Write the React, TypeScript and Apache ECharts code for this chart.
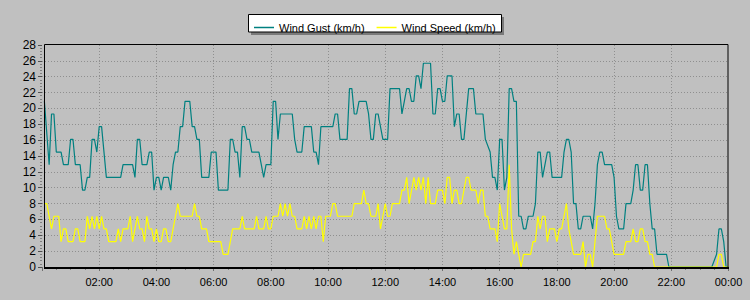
import React, { useEffect, useRef } from "react";
import * as echarts from "echarts";

// time of day in minutes, values in km/h
const gustTimes = [5, 15, 20, 25, 30, 40, 45, 55, 60, 65, 70, 80, 85, 90, 95, 100, 105, 110, 115, 120, 125, 135, 165, 170, 190, 195, 200, 205, 210, 220, 225, 230, 235, 240, 245, 250, 255, 265, 270, 275, 280, 285, 290, 295, 300, 310, 315, 320, 325, 330, 335, 350, 355, 365, 370, 390, 395, 400, 405, 410, 415, 420, 425, 430, 435, 440, 455, 460, 465, 470, 480, 485, 490, 495, 500, 525, 530, 535, 545, 550, 565, 570, 575, 580, 585, 610, 615, 620, 625, 640, 645, 650, 655, 660, 665, 680, 685, 690, 695, 700, 705, 710, 715, 725, 730, 750, 755, 760, 765, 770, 775, 780, 785, 790, 795, 800, 815, 820, 825, 830, 835, 840, 845, 850, 860, 865, 870, 875, 880, 885, 895, 905, 910, 925, 930, 940, 945, 950, 955, 960, 965, 970, 975, 980, 985, 990, 995, 1000, 1005, 1010, 1015, 1020, 1030, 1035, 1040, 1045, 1050, 1055, 1060, 1065, 1070, 1090, 1095, 1100, 1105, 1110, 1115, 1120, 1125, 1130, 1135, 1150, 1155, 1160, 1165, 1170, 1175, 1180, 1195, 1200, 1205, 1210, 1220, 1225, 1235, 1240, 1245, 1250, 1255, 1260, 1265, 1270, 1275, 1280, 1285, 1290, 1310, 1315, 1405, 1415, 1420, 1425, 1430, 1435, 1440];
const gustValues = [20.9, 12.9, 19.3, 19.3, 14.5, 14.5, 12.9, 12.9, 16.1, 16.1, 12.9, 12.9, 9.7, 9.7, 11.3, 11.3, 16.1, 16.1, 14.5, 17.7, 17.7, 11.3, 11.3, 12.9, 12.9, 11.3, 16.1, 16.1, 12.9, 12.9, 14.5, 14.5, 9.7, 11.3, 11.3, 9.7, 11.3, 11.3, 9.7, 12.9, 14.5, 14.5, 17.7, 17.7, 20.9, 20.9, 17.7, 17.7, 16.1, 16.1, 11.3, 11.3, 14.5, 14.5, 9.7, 9.7, 16.1, 16.1, 14.5, 14.5, 11.3, 17.7, 17.7, 16.1, 16.1, 14.5, 14.5, 12.9, 11.3, 12.9, 12.9, 20.9, 20.9, 16.1, 19.3, 19.3, 16.1, 14.5, 14.5, 17.7, 17.7, 14.5, 14.5, 12.9, 17.7, 17.7, 19.3, 19.3, 16.1, 16.1, 22.5, 22.5, 19.3, 19.3, 20.9, 20.9, 19.3, 16.1, 16.1, 19.3, 19.3, 17.7, 16.1, 16.1, 22.5, 22.5, 19.3, 20.9, 22.5, 22.5, 20.9, 20.9, 24.1, 24.1, 22.5, 25.7, 25.7, 19.3, 19.3, 22.5, 22.5, 20.9, 20.9, 24.1, 24.1, 17.7, 19.3, 19.3, 16.1, 16.1, 22.5, 22.5, 19.3, 19.3, 16.1, 14.5, 11.3, 11.3, 9.7, 16.1, 16.1, 9.7, 11.3, 22.5, 22.5, 20.9, 20.9, 6.4, 6.4, 4.8, 4.8, 6.4, 6.4, 8.0, 14.5, 14.5, 11.3, 12.9, 14.5, 14.5, 11.3, 11.3, 14.5, 16.1, 16.1, 14.5, 8.0, 8.0, 4.8, 4.8, 6.4, 6.4, 4.8, 8.0, 12.9, 14.5, 14.5, 12.9, 12.9, 11.3, 6.4, 4.8, 4.8, 8.0, 8.0, 9.7, 12.9, 12.9, 9.7, 9.7, 12.9, 12.9, 8.0, 4.8, 4.8, 1.6, 1.6, 0, 0, 1.6, 4.8, 4.8, 3.2, 0, 0];

const speedTimes = [5, 10, 20, 25, 35, 40, 45, 50, 55, 65, 70, 75, 80, 90, 95, 100, 105, 110, 115, 120, 125, 130, 135, 140, 155, 160, 165, 170, 180, 185, 190, 195, 200, 205, 210, 215, 220, 225, 230, 235, 240, 245, 250, 255, 260, 265, 270, 275, 280, 285, 290, 315, 320, 325, 330, 335, 345, 350, 375, 380, 390, 400, 415, 420, 425, 445, 450, 455, 465, 470, 475, 480, 485, 495, 500, 505, 510, 515, 520, 525, 530, 535, 545, 550, 555, 560, 565, 570, 575, 580, 585, 590, 595, 605, 610, 615, 620, 650, 655, 670, 675, 680, 685, 690, 700, 705, 710, 715, 720, 725, 730, 735, 750, 755, 760, 765, 770, 780, 785, 790, 795, 800, 805, 810, 815, 825, 830, 840, 845, 850, 855, 860, 865, 870, 875, 880, 885, 890, 895, 900, 910, 915, 920, 925, 930, 935, 940, 950, 955, 960, 965, 970, 975, 980, 985, 990, 995, 1000, 1005, 1010, 1025, 1030, 1035, 1040, 1045, 1050, 1055, 1060, 1065, 1075, 1080, 1085, 1090, 1095, 1100, 1105, 1110, 1115, 1130, 1135, 1140, 1145, 1150, 1155, 1160, 1165, 1180, 1185, 1190, 1195, 1200, 1220, 1225, 1235, 1240, 1245, 1250, 1255, 1260, 1265, 1270, 1275, 1280, 1285, 1415, 1420, 1425, 1430, 1440];
const speedValues = [8.0, 8.0, 4.8, 6.4, 6.4, 3.2, 4.8, 4.8, 3.2, 3.2, 4.8, 4.8, 3.2, 3.2, 6.4, 4.8, 6.4, 4.8, 6.4, 4.8, 6.4, 4.8, 4.8, 3.2, 3.2, 4.8, 3.2, 4.8, 4.8, 6.4, 3.2, 4.8, 6.4, 4.8, 4.8, 3.2, 6.4, 4.8, 4.8, 3.2, 4.8, 3.2, 3.2, 4.8, 4.8, 3.2, 3.2, 4.8, 6.4, 8.0, 6.4, 6.4, 8.0, 6.4, 6.4, 4.8, 4.8, 3.2, 3.2, 1.6, 1.6, 4.8, 4.8, 6.4, 4.8, 4.8, 6.4, 4.8, 4.8, 6.4, 4.8, 4.8, 6.4, 6.4, 8.0, 6.4, 8.0, 6.4, 8.0, 6.4, 6.4, 4.8, 4.8, 6.4, 4.8, 6.4, 4.8, 6.4, 4.8, 6.4, 6.4, 3.2, 6.4, 6.4, 8.0, 8.0, 6.4, 6.4, 8.0, 8.0, 9.7, 8.0, 8.0, 6.4, 6.4, 8.0, 4.8, 6.4, 8.0, 6.4, 6.4, 8.0, 8.0, 9.7, 9.7, 11.3, 8.0, 11.3, 9.7, 11.3, 9.7, 11.3, 8.0, 11.3, 8.0, 8.0, 9.7, 9.7, 8.0, 11.3, 11.3, 8.0, 9.7, 9.7, 8.0, 8.0, 9.7, 11.3, 11.3, 9.7, 9.7, 8.0, 9.7, 9.7, 6.4, 6.4, 4.8, 4.8, 3.2, 8.0, 6.4, 4.8, 4.8, 12.9, 4.8, 1.6, 3.2, 1.6, 0, 1.6, 1.6, 3.2, 3.2, 6.4, 4.8, 6.4, 6.4, 3.2, 4.8, 4.8, 3.2, 4.8, 4.8, 6.4, 8.0, 4.8, 3.2, 1.6, 1.6, 3.2, 0, 1.6, 1.6, 0, 3.2, 6.4, 6.4, 4.8, 4.8, 3.2, 1.6, 1.6, 3.2, 3.2, 4.8, 3.2, 3.2, 4.8, 4.8, 3.2, 3.2, 1.6, 1.6, 0, 0, 1.6, 1.6, 0, 0];

const seriesNames = ["Wind Gust (km/h)", "Wind Speed (km/h)"];
const FONT = '"Liberation Sans", Arial, sans-serif';

function pairs(ts: number[], vs: number[]) {
  return ts.map((t, i) => [t, vs[i]]);
}

export default function App() {
  const ref = useRef<HTMLDivElement>(null);
  useEffect(() => {
    if (!ref.current) return;
    const chart = echarts.init(ref.current, null, { renderer: "svg" });
    const gridColor = "#8f8f8f";
    chart.setOption({
      animation: false,
      backgroundColor: "#c0c0c0",
      textStyle: { fontFamily: FONT },
      grid: { left: 42, right: 21.5, top: 45, height: 222, containLabel: false },
      legend: {
        data: seriesNames.map((n) => ({ name: n, icon: "rect" })),
        left: 254,
        top: 22,
        padding: 0,
        itemGap: 12,
        itemWidth: 20,
        itemHeight: 1.5,
        textStyle: { fontSize: 11, color: "#000", fontFamily: FONT },
      },
      xAxis: {
        type: "value",
        min: 0,
        max: 1440,
        interval: 120,
        axisLine: { show: false },
        axisTick: { show: true, length: 4, lineStyle: { color: "#707070" } },
        minorTick: { show: true, splitNumber: 4, length: 3, lineStyle: { color: "#808080" } },
        axisLabel: {
          showMinLabel: false,
          margin: 9,
          fontSize: 11,
          color: "#000",
          fontFamily: FONT,
          formatter: (v: number) => {
            const h = Math.round(v / 60) % 24;
            return (h < 10 ? "0" : "") + h + ":00";
          },
        },
        splitLine: {
          show: true,
          showMinLine: false,
          showMaxLine: false,
          lineStyle: { color: gridColor, type: [1, 2], width: 1 },
        },
      },
      yAxis: {
        type: "value",
        min: 0,
        max: 28,
        interval: 2,
        axisLine: { show: false },
        axisTick: { show: true, length: 4, lineStyle: { color: "#505050" } },
        minorTick: { show: true, splitNumber: 5, length: 2, lineStyle: { color: "#808080" } },
        axisLabel: { margin: 6, fontSize: 12, color: "#000", fontFamily: FONT },
        splitLine: {
          show: true,
          showMinLine: false,
          showMaxLine: false,
          lineStyle: { color: gridColor, type: [1, 2], width: 1 },
        },
      },
      graphic: [
        { type: "rect", shape: { x: 251, y: 17, width: 253, height: 18 }, style: { fill: "#7a7a7a" }, z: 0 },
        { type: "rect", shape: { x: 248.5, y: 14.5, width: 253, height: 17.5 }, style: { fill: "#ffffff", stroke: "#000", lineWidth: 1 }, z: 1 },
        { type: "rect", shape: { x: 44.5, y: 44.5, width: 683.5, height: 223 }, style: { fill: "none", stroke: "#000", lineWidth: 1 }, z: 100 },
        { type: "line", shape: { x1: 44, y1: 268, x2: 729, y2: 268 }, style: { stroke: "#000", lineWidth: 2 }, z: 100 },
      ],
      series: [
        {
          name: seriesNames[0],
          type: "line",
          data: pairs(gustTimes, gustValues),
          symbol: "none",
          lineStyle: { color: "#008080", width: 1.2 },
          itemStyle: { color: "#008080" },
          z: 2,
        },
        {
          name: seriesNames[1],
          type: "line",
          data: pairs(speedTimes, speedValues),
          symbol: "none",
          lineStyle: { color: "#ffff00", width: 1.2 },
          itemStyle: { color: "#ffff00" },
          z: 3,
        },
      ],
    });
    return () => chart.dispose();
  }, []);
  return (
    <div
      ref={ref}
      style={{ position: "absolute", left: 0, top: 0, width: 750, height: 300, background: "#c0c0c0" }}
    />
  );
}
